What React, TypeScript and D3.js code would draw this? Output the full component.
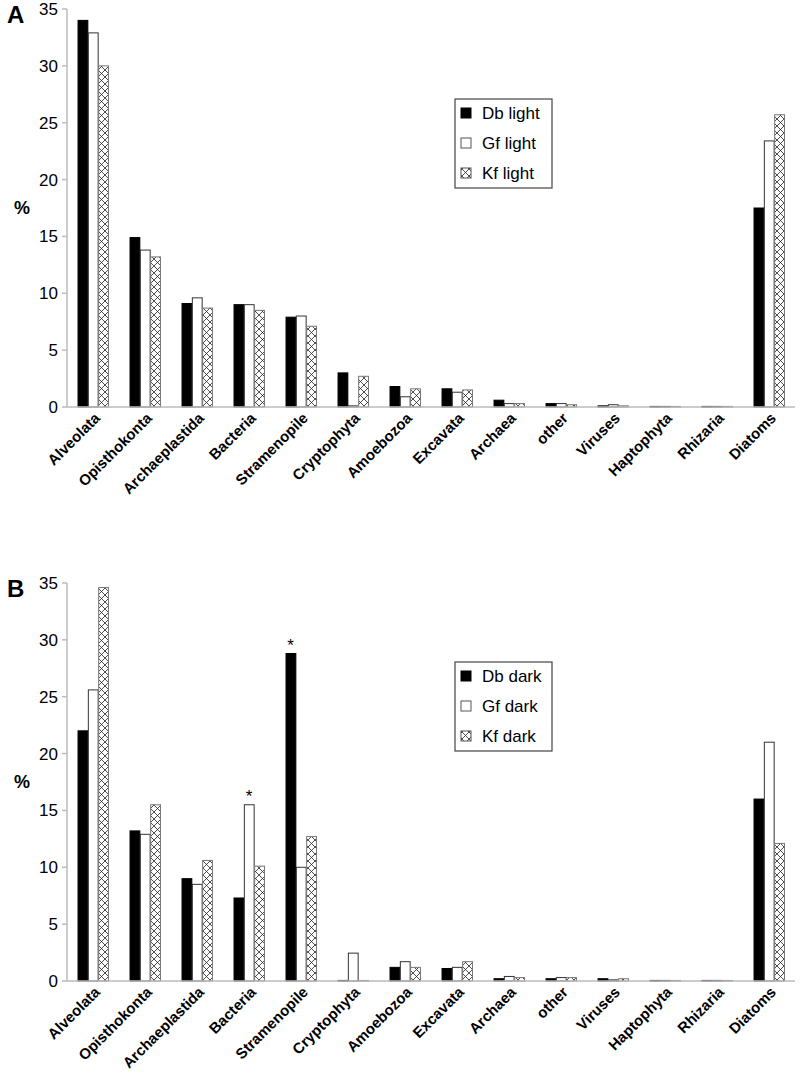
import React from "react";
import * as d3 from "d3";

const categories = ["Alveolata","Opisthokonta","Archaeplastida","Bacteria","Stramenopile","Cryptophyta","Amoebozoa","Excavata","Archaea","other","Viruses","Haptophyta","Rhizaria","Diatoms"];

const dbLight = [34.0, 14.9, 9.1, 9.0, 7.9, 3.0, 1.8, 1.6, 0.6, 0.3, 0.1, 0.05, 0.05, 17.5];
const gfLight = [32.9, 13.8, 9.6, 9.0, 8.0, 0.1, 0.9, 1.3, 0.3, 0.3, 0.2, 0.05, 0.05, 23.4];
const kfLight = [30.0, 13.2, 8.7, 8.5, 7.1, 2.7, 1.6, 1.5, 0.3, 0.2, 0.1, 0.05, 0.05, 25.7];

const dbDark = [22.0, 13.2, 9.0, 7.3, 28.8, 0.05, 1.2, 1.1, 0.2, 0.2, 0.2, 0.05, 0.05, 16.0];
const gfDark = [25.6, 12.9, 8.5, 15.5, 10.0, 2.45, 1.7, 1.2, 0.4, 0.3, 0.1, 0.05, 0.05, 21.0];
const kfDark = [34.6, 15.5, 10.6, 10.1, 12.7, 0.05, 1.2, 1.7, 0.3, 0.3, 0.2, 0.05, 0.05, 12.1];

const yTicks = [0, 5, 10, 15, 20, 25, 30, 35];
const seriesKeys = ["Db", "Gf", "Kf"];
const legendA = ["Db light", "Gf light", "Kf light"];
const legendB = ["Db dark", "Gf dark", "Kf dark"];
// asterisks in panel B: [category, series]
const starsB: [string, string][] = [["Bacteria", "Gf"], ["Stramenopile", "Db"]];

const FONT = "Liberation Sans, Arial, sans-serif";

function fillFor(k: string) {
  if (k === "Db") return { fill: "#000", stroke: "#000" };
  if (k === "Gf") return { fill: "#fff", stroke: "#333" };
  return { fill: "url(#hatch)", stroke: "#777" };
}

function Panel({ top, bottom, label, series, legend, legendTop, stars }: {
  top: number; bottom: number; label: string; series: number[][]; legend: string[]; legendTop: number; stars: [string, string][];
}) {
  const x0 = 67, x1r = 795;
  const y = d3.scaleLinear().domain([0, 35]).range([bottom, top]);
  const x = d3.scaleBand().domain(categories).range([x0, x1r]).padding(0);
  const bw = x.bandwidth();
  const gw = bw * 0.595;
  const xs = d3.scaleBand().domain(seriesKeys).range([(bw - gw) / 2, (bw + gw) / 2]).padding(0);
  return (
    <g>
      <text x={7} y={top + 14} fontFamily={FONT} fontWeight="bold" fontSize={24}>{label}</text>
      <text x={22} y={(top + bottom) / 2 + 6} fontFamily={FONT} fontWeight="bold" fontSize={18} textAnchor="middle">%</text>
      <line x1={x0} x2={x0} y1={top} y2={bottom} stroke="#bbb" strokeWidth={1.5} />
      {yTicks.map(t => (
        <g key={t}>
          <line x1={x0 - 5} x2={x0} y1={y(t)} y2={y(t)} stroke="#bbb" strokeWidth={1.5} />
          <text x={58} y={y(t) + 6} textAnchor="end" fontFamily={FONT} fontSize={17}>{t}</text>
        </g>
      ))}
      {categories.map((c, i) => (
        <g key={c}>
          {seriesKeys.map((k, j) => {
            const v = series[j][i];
            const st = fillFor(k);
            const bx = (x(c) as number) + (xs(k) as number);
            return (
              <rect key={k} x={bx + 0.5} y={y(v)} width={xs.bandwidth() - 0.5} height={Math.max(0.5, bottom - y(v))}
                fill={st.fill} stroke={st.stroke} strokeWidth={1} />
            );
          })}
          <text transform={`translate(${(x(c) as number) + bw / 2 + 8},${bottom + 12}) rotate(-45)`} textAnchor="end"
            fontFamily={FONT} fontWeight="bold" fontSize={15}>{c}</text>
        </g>
      ))}
      {stars.map(([c, k]) => {
        const i = categories.indexOf(c);
        const j = seriesKeys.indexOf(k);
        const v = series[j][i];
        return <text key={c + k} x={(x(c) as number) + (xs(k) as number) + xs.bandwidth() / 2} y={y(v) - 3}
          textAnchor="middle" fontFamily={FONT} fontSize={17}>*</text>;
      })}
      <line x1={x0} x2={x1r} y1={bottom} y2={bottom} stroke="#bbb" strokeWidth={1.5} />
      <g transform={`translate(455,${legendTop})`}>
        <rect x={0} y={0} width={97} height={89} fill="#fff" stroke="#444" strokeWidth={1.2} />
        {legend.map((l, j) => {
          const st = fillFor(seriesKeys[j]);
          const cy = 14 + j * 30;
          return (
            <g key={l}>
              <rect x={6} y={cy - 5} width={10} height={10} fill={st.fill} stroke={j === 0 ? "#000" : "#555"} />
              <text x={27} y={cy + 6} fontFamily={FONT} fontSize={17}>{l}</text>
            </g>
          );
        })}
      </g>
    </g>
  );
}

export default function App() {
  return (
    <svg width={800} height={1076} style={{ position: "absolute", left: 0, top: 0, background: "#fff" }}>
      <defs>
        <pattern id="hatch" patternUnits="userSpaceOnUse" width={7} height={7}>
          <rect width={7} height={7} fill="#fff" />
          <path d="M0,0 L7,7 M7,0 L0,7 M-1,6 L1,8 M6,-1 L8,1 M-1,1 L1,-1 M6,8 L8,6" stroke="#222" strokeWidth={0.8} />
        </pattern>
      </defs>
      <rect width={800} height={1076} fill="#fff" />
      <Panel top={9} bottom={407} label="A" series={[dbLight, gfLight, kfLight]} legend={legendA} legendTop={99} stars={[]} />
      <Panel top={583} bottom={981} label="B" series={[dbDark, gfDark, kfDark]} legend={legendB} legendTop={662} stars={starsB} />
    </svg>
  );
}
